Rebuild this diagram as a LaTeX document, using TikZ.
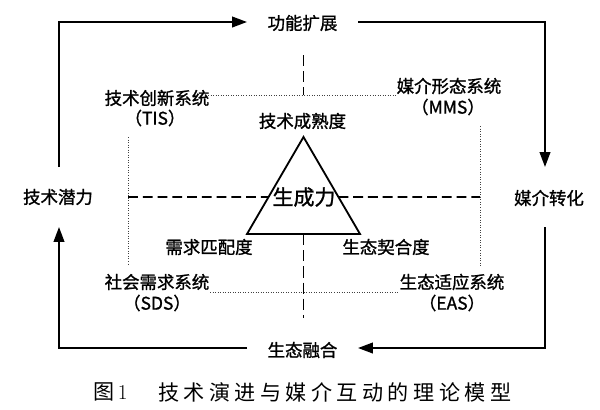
\documentclass[tikz,border=0pt]{standalone}
\usepackage{fontspec}
\newfontfamily\cjk[FakeBold=1.2]{Noto Sans CJK SC}
\newfontfamily\capcjk[LetterSpace=21]{Noto Sans CJK SC}
\usetikzlibrary{arrows.meta,calc}
\begin{document}
\begin{tikzpicture}[x=0.025cm,y=-0.025cm,
  lbl/.style={font=\cjk\fontsize{12.4pt}{14pt}\selectfont, inner sep=0pt},
  biglbl/.style={font=\cjk\fontsize{14.9pt}{17pt}\selectfont, inner sep=0pt},
  caplbl/.style={font=\capcjk\fontsize{15pt}{17pt}\selectfont, inner sep=0pt, anchor=west},
  loopline/.style={line width=1.3pt, line join=miter, -{Triangle[length=10.5pt,width=7.5pt]}},
  tri/.style={line width=1.3pt, line join=miter},
  dashH/.style={line width=1.2pt, dash pattern=on 7pt off 3.5pt},
  dashV/.style={line width=0.8pt, dash pattern=on 8pt off 3.5pt},
  dotline/.style={line width=0.6pt, dash pattern=on 0.6pt off 1.2pt, black!75}
]
\useasboundingbox (0,0) rectangle (600,409);

% corners and gap ends of the outer loop
\coordinate (TL) at (59,22);
\coordinate (TR) at (545,22);
\coordinate (BR) at (545,348);
\coordinate (BL) at (59,348);
\coordinate (l1) at (59,167);
\coordinate (l2) at (59,227);
\coordinate (t1) at (247,22);
\coordinate (t2) at (358,22);
\coordinate (r1) at (545,167);
\coordinate (r2) at (545,227);
\coordinate (b1) at (358,348);
\coordinate (b2) at (247,348);

% outer labels
\node[lbl] (top) at (302.5,23) {功能扩展};
\node[lbl] (right) at (549,198) {媒介转化};
\node[lbl] (bottom) at (302.5,350) {生态融合};
\node[lbl] (left) at (58,197) {技术潜力};

% outer loop
\draw[loopline] (l1) -- (TL) -- (t1);
\draw[loopline] (t2) -- (TR) -- (r1);
\draw[loopline] (r2) -- (BR) -- (b1);
\draw[loopline] (b2) -- (BL) -- (l2);

% triangle
\coordinate (A) at (303.5,137);
\coordinate (Bl) at (247,234);
\coordinate (Br) at (360,234);
\draw[tri] (A) -- (Bl) -- (Br) -- cycle;

% dashed axes
\coordinate (DL) at (128,197);
\coordinate (DR) at (480,197);
\coordinate (eL) at ($(A)!0.6186!(Bl)$);
\coordinate (eR) at ($(A)!0.6186!(Br)$);
\draw[dashH] (DL) -- (eL);
\draw[dashH] (eR) -- (DR);
\coordinate (VT1) at (303.5,55);
\coordinate (VT2) at (303.5,95);
\coordinate (VB1) at ($(Bl)!0.5!(Br)$);
\coordinate (VB2) at (303.5,318);
\draw[dashV] (VT1) -- (VT2);
\draw[dashV] (VB1) -- (VB2);

% dotted frame
\coordinate (dt1) at (208,95);
\coordinate (dt2) at (397,95);
\coordinate (db1) at (210,292);
\coordinate (db2) at (398,292);
\coordinate (dl1) at (128,137);
\coordinate (dl2) at (128,266);
\coordinate (dr1) at (480,126);
\coordinate (dr2) at (480,266);
\draw[dotline] (dt1) -- (dt2);
\draw[dotline] (db1) -- (db2);
\draw[dotline] (dl1) -- (dl2);
\draw[dotline] (dr1) -- (dr2);

% system labels
\node[lbl] (tis) at (157,98) {技术创新系统};
\node[lbl] (tisab) at (155,118) {（TIS）};
\node[lbl] (mms) at (449,86) {媒介形态系统};
\node[lbl] (mmsab) at (448,107) {（MMS）};
\node[lbl] (sds) at (157,282) {社会需求系统};
\node[lbl] (sdsab) at (157,303) {（SDS）};
\node[lbl] (eas) at (452,282) {生态适应系统};
\node[lbl] (easab) at (452,303) {（EAS）};

% triangle labels
\node[lbl] (tech) at (302.5,121) {技术成熟度};
\node[biglbl] (core) at (304,197) {生成力};
\node[lbl] (need) at (209,247) {需求匹配度};
\node[lbl] (eco) at (386,247) {生态契合度};

% caption
\node[caplbl] (capnum) at (93,392) {图\rmfamily\fontsize{15pt}{17pt}\selectfont\,1};
\node[caplbl] (captxt) at (158,392) {技术演进与媒介互动的理论模型};
\end{tikzpicture}
\end{document}
